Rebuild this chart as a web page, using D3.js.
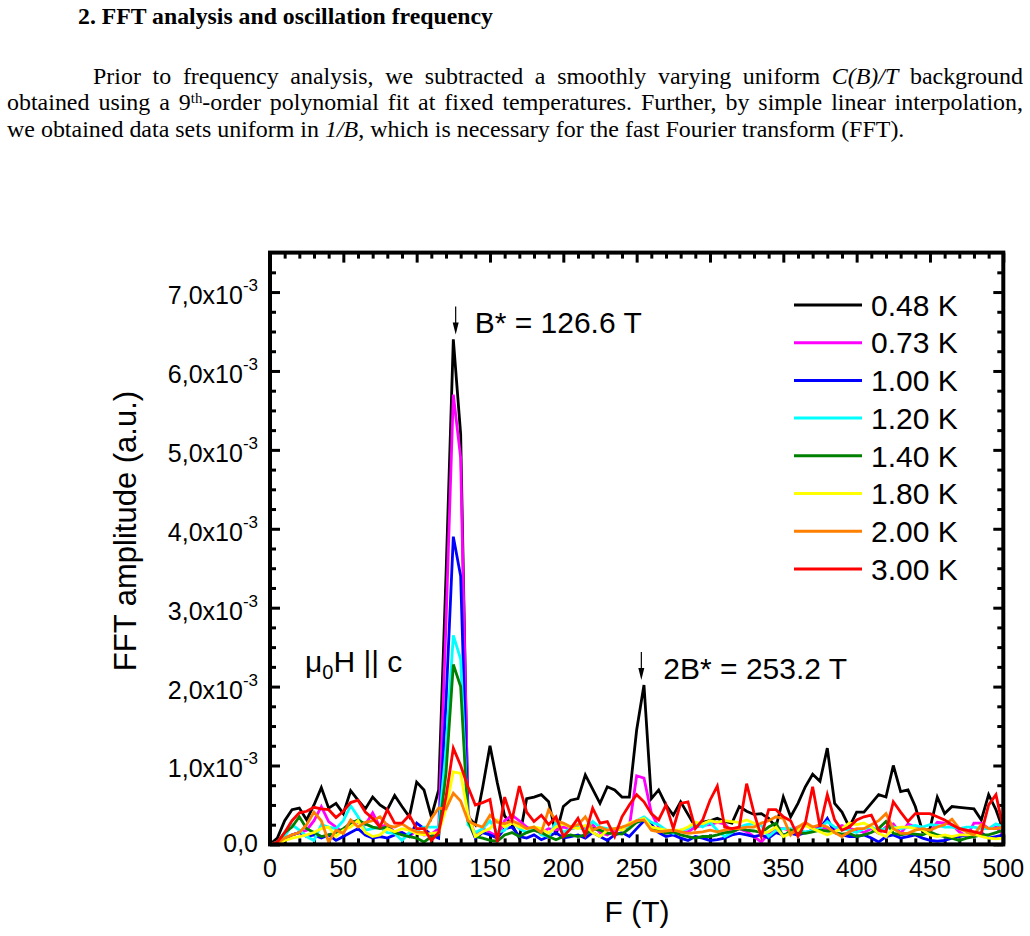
<!DOCTYPE html>
<html>
<head>
<meta charset="utf-8">
<title>FFT analysis</title>
<script src="https://cdn.jsdelivr.net/npm/d3@7"></script>
<style>
  body { margin: 0; background: #fff; }
  .sans { font-family: "Liberation Sans", Arial, sans-serif; }
  .serif { font-family: "Liberation Serif", "Times New Roman", serif; }
  .axis line { stroke: #000; stroke-width: 3px; }
</style>
</head>
<body>
<div id="page"></div>
<script>

// FFT frequency bins (T)
var freqT = [0,5,10,15,20,25,30,35,40,45,50,55,60,65,70,75,80,85,90,95,
             100,105,110,115,120,125,130,135,140,145,150,155,160,165,170,175,180,185,190,195,
             200,205,210,215,220,225,230,235,240,245,250,255,260,265,270,275,280,285,290,295,
             300,305,310,315,320,325,330,335,340,345,350,355,360,365,370,375,380,385,390,395,
             400,405,410,415,420,425,430,435,440,445,450,455,460,465,470,475,480,485,490,495,500];

// FFT amplitude, in units of 1e-3 a.u.
var amp048 = [0,0.08,0.3,0.44,0.46,0.31,0.5,0.72,0.46,0.52,
              0.39,0.68,0.56,0.45,0.6,0.5,0.44,0.62,0.48,0.35,
              0.79,0.69,0.35,0.69,3.4,6.4,5.2,0.35,0.25,0.72,
              1.25,0.78,0.36,0.25,0.08,0.58,0.6,0.63,0.54,0.12,
              0.48,0.56,0.58,0.88,0.7,0.52,0.73,0.69,0.6,0.6,
              1.45,2.02,0.58,0.69,0.5,0.37,0.54,0.38,0.22,0.28,
              0.3,0.33,0.29,0.27,0.48,0.42,0.38,0.39,0.33,0.22,
              0.6,0.35,0.52,0.73,0.89,0.8,1.22,0.52,0.41,0.22,
              0.41,0.41,0.52,0.63,0.6,1.0,0.67,0.69,0.48,0.16,
              0.2,0.6,0.39,0.48,0.47,0.46,0.45,0.31,0.63,0.44,0.18];
var amp073 = [0,0.02,0.08,0.12,0.15,0.18,0.3,0.48,0.29,0.22,
              0.15,0.3,0.28,0.25,0.4,0.22,0.25,0.15,0.15,0.1,
              0.18,0.12,0.13,0.2,2.8,5.7,4.9,0.4,0.1,0.2,
              0.15,0.1,0.3,0.37,0.3,0.22,0.18,0.15,0.2,0.18,
              0.22,0.2,0.22,0.2,0.25,0.15,0.12,0.18,0.2,0.22,
              0.87,0.84,0.4,0.22,0.18,0.12,0.16,0.16,0.22,0.24,
              0.25,0.28,0.26,0.15,0.2,0.16,0.1,0.03,0.14,0.2,
              0.2,0.18,0.22,0.25,0.2,0.22,0.2,0.2,0.24,0.2,
              0.18,0.15,0.2,0.14,0.22,0.26,0.14,0.26,0.22,0.2,
              0.16,0.28,0.27,0.25,0.16,0.1,0.27,0.27,0.2,0.22,0.12];
var amp100 = [0,0.02,0.06,0.12,0.15,0.1,0.12,0.08,0.12,0.05,
              0.1,0.15,0.2,0.12,0.08,0.1,0.08,0.12,0.15,0.1,
              0.27,0.2,0.12,0.08,1.8,3.9,3.4,0.3,0.08,0.15,
              0.12,0.08,0.2,0.22,0.1,0.08,0.12,0.06,0.1,0.15,
              0.08,0.1,0.12,0.08,0.15,0.1,0.05,0.12,0.15,0.1,
              0.2,0.3,0.25,0.15,0.1,0.12,0.08,0.05,0.1,0.08,
              0.05,0.06,0.08,0.12,0.14,0.12,0.1,0.12,0.08,0.15,
              0.12,0.14,0.12,0.15,0.18,0.2,0.33,0.15,0.12,0.1,
              0.1,0.12,0.08,0.03,0.1,0.12,0.08,0.1,0.12,0.08,
              0.05,0.04,0.05,0.08,0.1,0.12,0.1,0.15,0.08,0.1,0.12];
var amp120 = [0,0.03,0.1,0.25,0.18,0.1,0.05,0.25,0.22,0.2,
              0.3,0.49,0.35,0.18,0.2,0.22,0.15,0.14,0.05,0.15,
              0.18,0.22,0.22,0.22,1.2,2.65,2.35,0.25,0.15,0.2,
              0.3,0.15,0.18,0.3,0.2,0.15,0.22,0.12,0.1,0.28,
              0.15,0.2,0.22,0.18,0.29,0.22,0.2,0.2,0.22,0.22,
              0.3,0.35,0.28,0.25,0.18,0.14,0.18,0.2,0.26,0.22,
              0.28,0.18,0.1,0.15,0.22,0.25,0.26,0.24,0.1,0.18,
              0.2,0.2,0.18,0.16,0.17,0.2,0.29,0.22,0.2,0.18,
              0.15,0.2,0.22,0.18,0.2,0.22,0.2,0.22,0.24,0.22,
              0.25,0.24,0.22,0.22,0.2,0.22,0.22,0.2,0.2,0.26,0.22];
var amp140 = [0,0.02,0.15,0.22,0.35,0.2,0.15,0.1,0.12,0.15,
              0.2,0.27,0.31,0.26,0.22,0.2,0.22,0.15,0.12,0.1,
              0.08,0.03,0.1,0.12,0.9,2.28,2.0,0.3,0.1,0.08,
              0.05,0.04,0.12,0.15,0.1,0.15,0.18,0.15,0.1,0.06,
              0.1,0.12,0.1,0.12,0.2,0.18,0.14,0.14,0.13,0.2,
              0.28,0.31,0.2,0.18,0.14,0.16,0.12,0.1,0.08,0.1,
              0.1,0.12,0.15,0.16,0.2,0.18,0.17,0.15,0.22,0.27,
              0.1,0.18,0.15,0.14,0.16,0.18,0.17,0.15,0.13,0.14,
              0.1,0.12,0.15,0.2,0.29,0.14,0.12,0.14,0.13,0.12,
              0.16,0.12,0.1,0.08,0.05,0.08,0.1,0.12,0.12,0.15,0.18];
var amp180 = [0,0.01,0.05,0.08,0.1,0.12,0.15,0.2,0.22,0.1,
              0.18,0.22,0.3,0.15,0.1,0.12,0.2,0.16,0.2,0.18,
              0.14,0.12,0.14,0.15,0.45,0.92,0.9,0.38,0.1,0.16,
              0.2,0.31,0.22,0.27,0.22,0.2,0.22,0.2,0.14,0.22,
              0.26,0.22,0.2,0.24,0.15,0.1,0.18,0.2,0.18,0.27,
              0.3,0.33,0.22,0.2,0.18,0.18,0.18,0.22,0.28,0.26,
              0.3,0.28,0.3,0.29,0.28,0.31,0.27,0.14,0.16,0.22,
              0.1,0.14,0.18,0.24,0.2,0.16,0.12,0.16,0.2,0.27,
              0.25,0.27,0.22,0.14,0.1,0.2,0.22,0.22,0.2,0.18,
              0.12,0.1,0.12,0.1,0.12,0.12,0.13,0.1,0.08,0.07,0.08];
var amp200 = [0,0.02,0.08,0.12,0.15,0.25,0.41,0.3,0.03,0.18,
              0.14,0.31,0.22,0.28,0.3,0.35,0.24,0.22,0.26,0.2,
              0.16,0.15,0.33,0.46,0.45,0.65,0.55,0.3,0.25,0.22,
              0.37,0.28,0.26,0.3,0.26,0.2,0.22,0.15,0.44,0.3,
              0.27,0.22,0.25,0.35,0.18,0.22,0.18,0.2,0.22,0.25,
              0.3,0.31,0.18,0.16,0.17,0.18,0.16,0.14,0.15,0.16,
              0.18,0.16,0.18,0.2,0.2,0.22,0.22,0.27,0.3,0.35,
              0.33,0.12,0.22,0.28,0.22,0.25,0.22,0.15,0.1,0.16,
              0.2,0.2,0.25,0.3,0.39,0.2,0.14,0.14,0.18,0.2,
              0.18,0.22,0.25,0.32,0.2,0.16,0.12,0.25,0.2,0.2,0.22];
var amp300 = [0,0.03,0.15,0.3,0.4,0.42,0.47,0.45,0.44,0.34,
              0.42,0.53,0.56,0.41,0.33,0.22,0.44,0.27,0.27,0.37,
              0.2,0.2,0.05,0.15,0.6,1.22,1.0,0.73,0.5,0.53,
              0.57,0.03,0.6,0.31,0.74,0.41,0.29,0.37,0.25,0.35,
              0.1,0.2,0.33,0.12,0.46,0.27,0.29,0.1,0.35,0.5,
              0.63,0.54,0.39,0.31,0.5,0.2,0.52,0.54,0.2,0.31,
              0.56,0.74,0.22,0.2,0.22,0.77,0.4,0.1,0.44,0.44,
              0.35,0.3,0.1,0.27,0.73,0.22,0.63,0.31,0.18,0.22,
              0.31,0.35,0.37,0.18,0.16,0.54,0.41,0.29,0.39,0.39,
              0.39,0.35,0.31,0.25,0.2,0.18,0.16,0.14,0.5,0.63,0.2];

var seriesAmps   = [amp048, amp073, amp100, amp120, amp140, amp180, amp200, amp300];
var seriesLabels = ["0.48 K", "0.73 K", "1.00 K", "1.20 K", "1.40 K", "1.80 K", "2.00 K", "3.00 K"];
var seriesColors = ["#000000", "#ff00ff", "#0000ff", "#00ffff", "#008000", "#ffff00", "#ff8000", "#ff0000"];

var xMajor = [0, 50, 100, 150, 200, 250, 300, 350, 400, 450, 500];
var yMajor = [0, 1, 2, 3, 4, 5, 6, 7];
var peakB = 126.6, peak2B = 253.2;

var W = 1030, H = 936;

var svg = d3.select("#page").append("svg")
    .attr("width", W)
    .attr("height", H);

/*
  text above the figure
*/
var doc = svg.append("g").attr("class", "serif");

var heading = doc.append("text")
    .attr("x", 78).attr("y", 24)
    .style("font-weight", "bold")
    .style("font-size", "20px")
    .text("2. FFT analysis and oscillation frequency");
// scale the heading so it spans the same width as in the page
var hw = heading.node().getComputedTextLength();
heading.style("font-size", (20 * 415 / hw) + "px");

function addLine(x, yb, parts) {
  var t = doc.append("text").attr("x", x).attr("y", yb).style("font-size", "20px");
  parts.forEach(function(p) {
    var s = t.append("tspan").text(p.t);
    if (p.i) s.style("font-style", "italic");
    if (p.sup) s.attr("dy", -7).style("font-size", "0.62em");
    if (p.after) s.attr("dy", 7);
  });
  return t;
}

var line1 = addLine(93, 84, [
  {t: "Prior to frequency analysis, we subtracted a smoothly varying uniform "},
  {t: "C(B)/T", i: true},
  {t: " background"}]);
var line2 = addLine(7, 110, [
  {t: "obtained using a 9"},
  {t: "th", sup: true},
  {t: "-order polynomial fit at fixed temperatures. Further, by simple linear interpolation,", after: true}]);
var line3 = addLine(7, 137, [
  {t: "we obtained data sets uniform in "},
  {t: "1/B", i: true},
  {t: ", which is necessary for the fast Fourier transform (FFT)."}]);

// font size from the last (unjustified) line, then justify lines 1 and 2
var fs = 20 * 898 / line3.node().getComputedTextLength();
[line1, line2, line3].forEach(function(l) { l.style("font-size", fs + "px"); });

function justify(l, x0, x1) {
  var w = l.node().getComputedTextLength();
  var n = l.text().split(" ").length - 1;
  l.attr("word-spacing", (x1 - x0 - w) / n);
}
justify(line1, 93, 1023);
justify(line2, 7, 1023);

/*
  chart
*/
var x = d3.scaleLinear().domain([0, 500]).range([270, 1003.3]);
var y = d3.scaleLinear().domain([0, 7.5]).range([844.4, 252.6]);

var chart = svg.append("g").attr("class", "sans");

var xMinor = d3.range(0, 501, 10).filter(function(v) { return v % 50 !== 0; });
var yMinor = d3.range(0, 7.5, 0.25).filter(function(v) { return v % 1 !== 0; });

function ticks(axis, values, size, tr) {
  chart.append("g")
      .attr("class", "axis")
      .attr("transform", tr)
      .call(axis.tickValues(values).tickSizeInner(size).tickSizeOuter(0).tickFormat(""))
      .call(function(g) { g.select(".domain").remove(); g.selectAll("text").remove(); });
}

ticks(d3.axisBottom(x), xMajor, -10, "translate(0," + y(0) + ")");
ticks(d3.axisBottom(x), xMinor, -6, "translate(0," + y(0) + ")");
ticks(d3.axisTop(x), xMajor, -10, "translate(0," + y(7.5) + ")");
ticks(d3.axisTop(x), xMinor, -6, "translate(0," + y(7.5) + ")");
ticks(d3.axisLeft(y), yMajor, -10, "translate(" + x(0) + ",0)");
ticks(d3.axisLeft(y), yMinor, -6, "translate(" + x(0) + ",0)");
ticks(d3.axisRight(y), yMajor, -10, "translate(" + x(500) + ",0)");
ticks(d3.axisRight(y), yMinor, -6, "translate(" + x(500) + ",0)");

// clip for the data
svg.append("defs").append("clipPath").attr("id", "plotClip")
  .append("rect")
    .attr("x", x(0)).attr("y", y(7.5))
    .attr("width", x(500) - x(0)).attr("height", y(0) - y(7.5));

var line = d3.line()
    .x(function(d, i) { return x(freqT[i]); })
    .y(function(d) { return y(d); });

chart.append("g")
    .attr("clip-path", "url(#plotClip)")
  .selectAll("path")
  .data(seriesAmps)
  .enter().append("path")
    .attr("d", line)
    .attr("fill", "none")
    .attr("stroke", function(d, i) { return seriesColors[i]; })
    .attr("stroke-width", 2.8);

// frame
chart.append("rect")
    .attr("x", x(0)).attr("y", y(7.5))
    .attr("width", x(500) - x(0)).attr("height", y(0) - y(7.5))
    .attr("fill", "none")
    .attr("stroke", "#000")
    .attr("stroke-width", 4);

// tick labels
chart.append("g").selectAll("text")
  .data(xMajor)
  .enter().append("text")
    .attr("x", function(d) { return x(d); })
    .attr("y", y(0) + 33)
    .attr("text-anchor", "middle")
    .style("font-size", "25px")
    .text(function(d) { return d; });

var yl = chart.append("g").selectAll("text")
  .data(yMajor)
  .enter().append("text")
    .attr("x", 258)
    .attr("y", function(d) { return d === 0 ? y(d) + 8 : y(d) + 12; })
    .attr("text-anchor", "end")
    .style("font-size", "25px");
yl.filter(function(d) { return d === 0; }).text("0,0");
yl.filter(function(d) { return d !== 0; }).each(function(d) {
  var t = d3.select(this);
  t.append("tspan").text(d + ",0x10");
  t.append("tspan").attr("dy", -13).style("font-size", "17px").text("-3");
});

// axis titles
chart.append("text")
    .attr("x", 637).attr("y", 922)
    .attr("text-anchor", "middle")
    .style("font-size", "30px")
    .text("F (T)");

chart.append("text")
    .attr("transform", "translate(136," + 531 + ") rotate(-90)")
    .attr("text-anchor", "middle")
    .style("font-size", "31px")
    .text("FFT amplitude (a.u.)");

// legend
var legend = chart.append("g").selectAll("g")
  .data(seriesLabels)
  .enter().append("g")
    .attr("transform", function(d, i) { return "translate(794," + (305 + i * 37.7) + ")"; });
legend.append("line")
    .attr("x1", 0).attr("x2", 68)
    .attr("stroke", function(d, i) { return seriesColors[i]; })
    .attr("stroke-width", 3);
legend.append("text")
    .attr("x", 77).attr("y", 10.7)
    .style("font-size", "30px")
    .text(function(d) { return d; });

// peak arrows and labels
function arrow(xv, peakVal, labelDx, label) {
  var tip = y(peakVal) - 5, top = tip - 28, px = x(xv);
  chart.append("line")
      .attr("x1", px).attr("x2", px)
      .attr("y1", top).attr("y2", tip - 10)
      .attr("stroke", "#000").attr("stroke-width", 1.2);
  chart.append("path")
      .attr("d", "M" + (px - 3) + "," + (tip - 12) + "L" + (px + 3) + "," + (tip - 12) + "L" + px + "," + tip + "Z")
      .attr("fill", "#000");
  chart.append("text")
      .attr("x", px + labelDx).attr("y", tip - 1)
      .style("font-size", "30px")
      .text(label);
}
arrow(peakB, d3.max(amp048), 19, "B* = 126.6 T");
arrow(peak2B, amp048[freqT.indexOf(255)], 22, "2B* = 253.2 T");

var mu = chart.append("text")
    .attr("x", 305).attr("y", 672)
    .style("font-size", "30px");
mu.append("tspan").text("\u03bc");
mu.append("tspan").attr("dy", 7).style("font-size", "20px").text("0");
mu.append("tspan").attr("dy", -7).text("H || c");

</script>
</body>
</html>
